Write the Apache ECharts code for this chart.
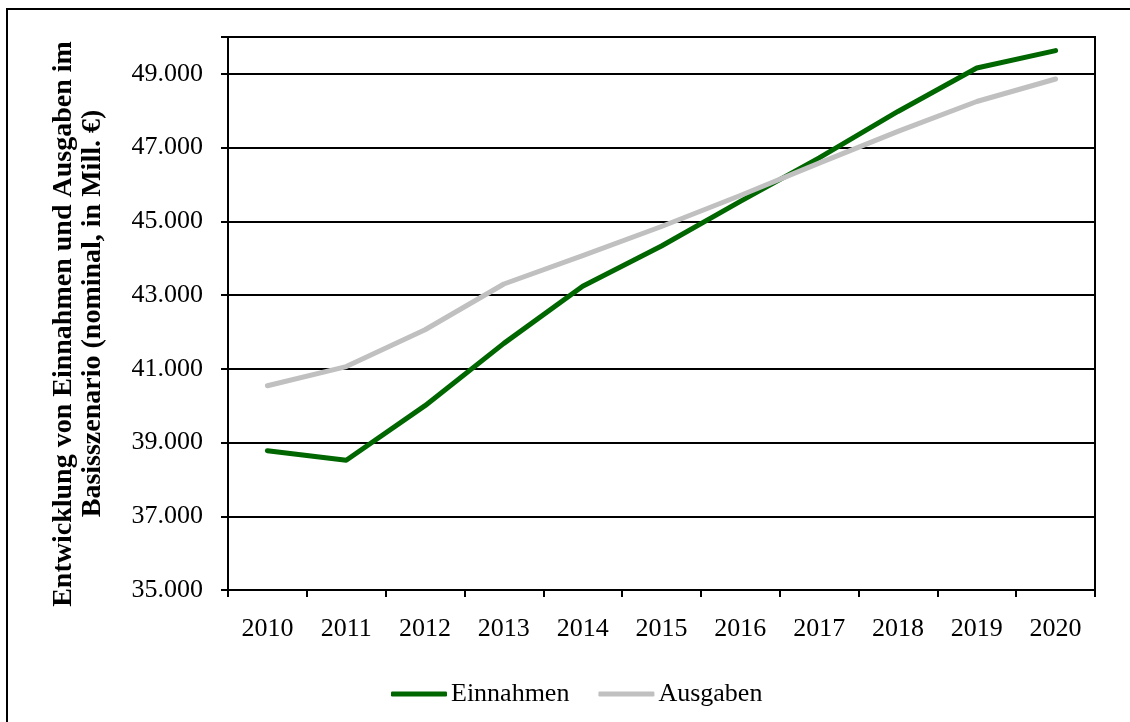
<!DOCTYPE html>
<html>
<head>
<meta charset="utf-8">
<script src="https://cdn.jsdelivr.net/npm/echarts@6/dist/echarts.min.js"></script>
<style>
html,body{margin:0;padding:0;background:#fff;}
#chart{width:1130px;height:722px;}
</style>
</head>
<body>
<div id="chart"></div>
<script>
const years = ['2010','2011','2012','2013','2014','2015','2016','2017','2018','2019','2020'];
const einnahmen = [38780, 38520, 40000, 41690, 43240, 44330, 45540, 46720, 47980, 49160, 49630];
const ausgaben = [40540, 41060, 42060, 43300, 44070, 44860, 45700, 46580, 47440, 48250, 48860];
const seriesNames = ['Einnahmen', 'Ausgaben'];
const yAxisTitle = 'Entwicklung von Einnahmen und Ausgaben im   \nBasisszenario (nominal, in Mill. €)';

const font = 'Liberation Serif, Times New Roman, serif';
const chart = echarts.init(document.getElementById('chart'), null, {renderer: 'canvas'});
function fmt(v) {
  if (v === 50000) return '';
  const s = String(Math.round(v));
  return s.slice(0, s.length - 3) + '.' + s.slice(s.length - 3);
}
chart.setOption({
  animation: false,
  backgroundColor: '#fff',
  graphic: [{
    type: 'rect',
    shape: {x: 7, y: 9, width: 1140, height: 730},
    style: {fill: 'none', stroke: '#000', lineWidth: 2},
    silent: true
  }],
  grid: {left: 228, top: 37, right: 35, bottom: 132, show: true, borderColor: '#000', borderWidth: 2, backgroundColor: 'transparent'},
  legend: {
    data: seriesNames,
    icon: 'roundRect',
    left: 386,
    top: 676,
    itemWidth: 56,
    itemHeight: 5,
    itemGap: 29,
    textStyle: {fontFamily: font, fontSize: 26, color: '#000', padding: [0, 0, 0, -1]}
  },
  xAxis: {
    type: 'category',
    data: years,
    boundaryGap: true,
    axisLine: {lineStyle: {color: '#000', width: 2}},
    axisTick: {show: true, length: 7, lineStyle: {color: '#000', width: 2}},
    axisLabel: {fontFamily: font, fontSize: 26, color: '#000', margin: 26}
  },
  yAxis: {
    type: 'value',
    min: 35000,
    max: 50000,
    interval: 2000,
    name: yAxisTitle,
    nameLocation: 'middle',
    nameGap: 121,
    nameRotate: 90,
    nameTextStyle: {fontFamily: font, fontSize: 28, fontWeight: 'bold', color: '#000', lineHeight: 29},
    axisLine: {show: true, lineStyle: {color: '#000', width: 2}},
    axisTick: {show: true, length: 7, lineStyle: {color: '#000', width: 2}},
    splitLine: {show: true, lineStyle: {color: '#000', width: 2}},
    axisLabel: {fontFamily: font, fontSize: 26, color: '#000', margin: 25, formatter: fmt}
  },
  series: [
    {name: seriesNames[0], type: 'line', data: einnahmen, symbol: 'none', lineStyle: {color: '#006600', width: 5, cap: 'round', join: 'round'}, itemStyle: {color: '#006600'}},
    {name: seriesNames[1], type: 'line', data: ausgaben, symbol: 'none', lineStyle: {color: '#c0c0c0', width: 5, cap: 'round', join: 'round'}, itemStyle: {color: '#c0c0c0'}}
  ]
});
</script>
</body>
</html>
